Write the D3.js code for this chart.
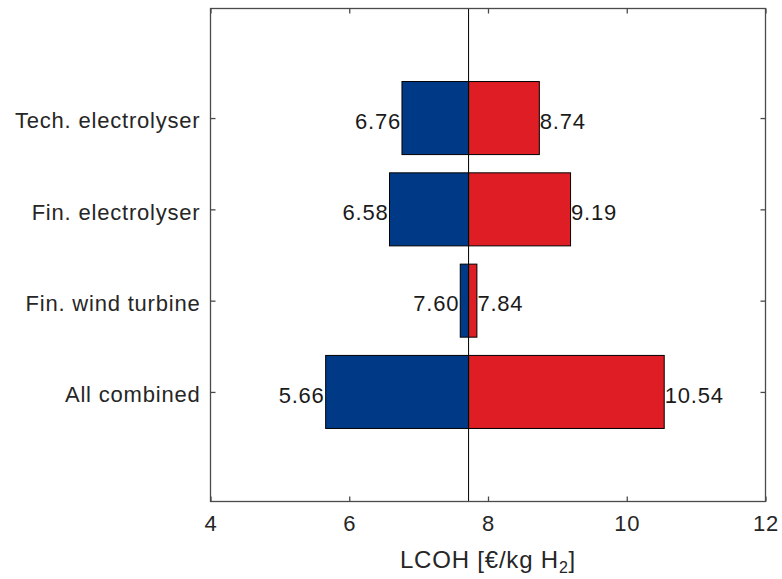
<!DOCTYPE html>
<html>
<head>
<meta charset="utf-8">
<script src="https://cdn.jsdelivr.net/npm/d3@7"></script>
<style>
  html, body { margin: 0; padding: 0; background: #fff; }
  svg text { font-family: Arial, "Liberation Sans", Helvetica, sans-serif; letter-spacing: 0.8px; }
</style>
</head>
<body>
<svg id="chart" width="782" height="579"></svg>
<script>
// Sensitivity of LCOH: low / high case per parameter group, around the base case
const categories = ["Tech. electrolyser", "Fin. electrolyser", "Fin. wind turbine", "All combined"];
const lowValues  = [6.76, 6.58, 7.60, 5.66];
const highValues = [8.74, 9.19, 7.84, 10.54];
const baseValue = 7.72;
const xTicks = [4, 6, 8, 10, 12];

const svg = d3.select("#chart");
const margin = { left: 210.5, right: 16.5, top: 8.5, bottom: 77.5 };
const W = 782, H = 579;
const x0 = margin.left, x1 = W - margin.right;
const y0 = margin.top, y1 = H - margin.bottom;

const x = d3.scaleLinear().domain([4, 12]).range([x0, x1]);
// category positions: index 0 at top
const y = d3.scaleLinear().domain([-1.2, 4.2]).range([y0, y1]);
const barH = (y(0.8) - y(0));

const textColor = "#262626";
const fontSize = 22;

const g = svg.append("g");

// bars: low (blue) to the left of base, high (red) to the right
categories.forEach((c, i) => {
  const yc = y(i);
  g.append("rect")
    .attr("x", x(lowValues[i]))
    .attr("y", yc - barH / 2)
    .attr("width", x(baseValue) - x(lowValues[i]))
    .attr("height", barH)
    .attr("fill", "#003a87")
    .attr("stroke", "#000")
    .attr("stroke-width", 1);
  g.append("rect")
    .attr("x", x(baseValue))
    .attr("y", yc - barH / 2)
    .attr("width", x(highValues[i]) - x(baseValue))
    .attr("height", barH)
    .attr("fill", "#de1e24")
    .attr("stroke", "#000")
    .attr("stroke-width", 1);

  g.append("text")
    .attr("x", x(lowValues[i]) - 1)
    .attr("y", yc + 3)
    .attr("dy", "0.35em")
    .attr("text-anchor", "end")
    .attr("font-size", fontSize)
    .attr("fill", "#1a1a1a")
    .text(lowValues[i].toFixed(2));
  g.append("text")
    .attr("x", x(highValues[i]) + 0.5)
    .attr("y", yc + 3)
    .attr("dy", "0.35em")
    .attr("text-anchor", "start")
    .attr("font-size", fontSize)
    .attr("fill", "#1a1a1a")
    .text(highValues[i].toFixed(2));
});

// base case line
g.append("line")
  .attr("x1", x(baseValue)).attr("x2", x(baseValue))
  .attr("y1", y0).attr("y2", y1)
  .attr("stroke", "#000").attr("stroke-width", 1);

// axes box
const axisColor = "#4a4a4a";
svg.append("rect")
  .attr("x", x0).attr("y", y0)
  .attr("width", x1 - x0).attr("height", y1 - y0)
  .attr("fill", "none").attr("stroke", axisColor).attr("stroke-width", 1.3);

// x axis (ticks inward, mirrored on top)
const xAxis = d3.axisBottom(x).tickValues(xTicks).tickSizeInner(-5).tickSizeOuter(0).tickPadding(14)
  .tickFormat(d3.format("d"));
const gx = svg.append("g").attr("transform", `translate(0,${y1})`).call(xAxis);
gx.select(".domain").remove();
gx.selectAll("line").attr("stroke", axisColor).attr("stroke-width", 1.3);
gx.selectAll("text").attr("font-size", fontSize).attr("fill", textColor);

const gxTop = svg.append("g").attr("transform", `translate(0,${y0})`)
  .call(d3.axisTop(x).tickValues(xTicks).tickSizeInner(-5).tickSizeOuter(0).tickFormat(""));
gxTop.select(".domain").remove();
gxTop.selectAll("line").attr("stroke", axisColor).attr("stroke-width", 1.3);

// y axis (categories)
const yAxis = d3.axisLeft(y).tickValues(d3.range(categories.length)).tickSizeInner(-5).tickSizeOuter(0)
  .tickPadding(10).tickFormat(i => categories[i]);
const gy = svg.append("g").attr("transform", `translate(${x0},0)`).call(yAxis);
gy.select(".domain").remove();
gy.selectAll("line").attr("stroke", axisColor).attr("stroke-width", 1.3);
gy.selectAll("text").attr("font-size", fontSize).attr("fill", textColor).attr("dy", "0.45em");

const gyR = svg.append("g").attr("transform", `translate(${x1},0)`)
  .call(d3.axisRight(y).tickValues(d3.range(categories.length)).tickSizeInner(-5).tickSizeOuter(0).tickFormat(""));
gyR.select(".domain").remove();
gyR.selectAll("line").attr("stroke", axisColor).attr("stroke-width", 1.3);

// x axis title (slightly larger than tick labels)
const title = svg.append("text")
  .attr("x", (x0 + x1) / 2)
  .attr("y", 568)
  .attr("text-anchor", "middle")
  .attr("font-size", 24)
  .attr("fill", textColor);
title.append("tspan").text("LCOH [€/kg H");
title.append("tspan").attr("font-size", 16).attr("dy", 5).text("2");
title.append("tspan").attr("dy", -5).text("]");
</script>
</body>
</html>
